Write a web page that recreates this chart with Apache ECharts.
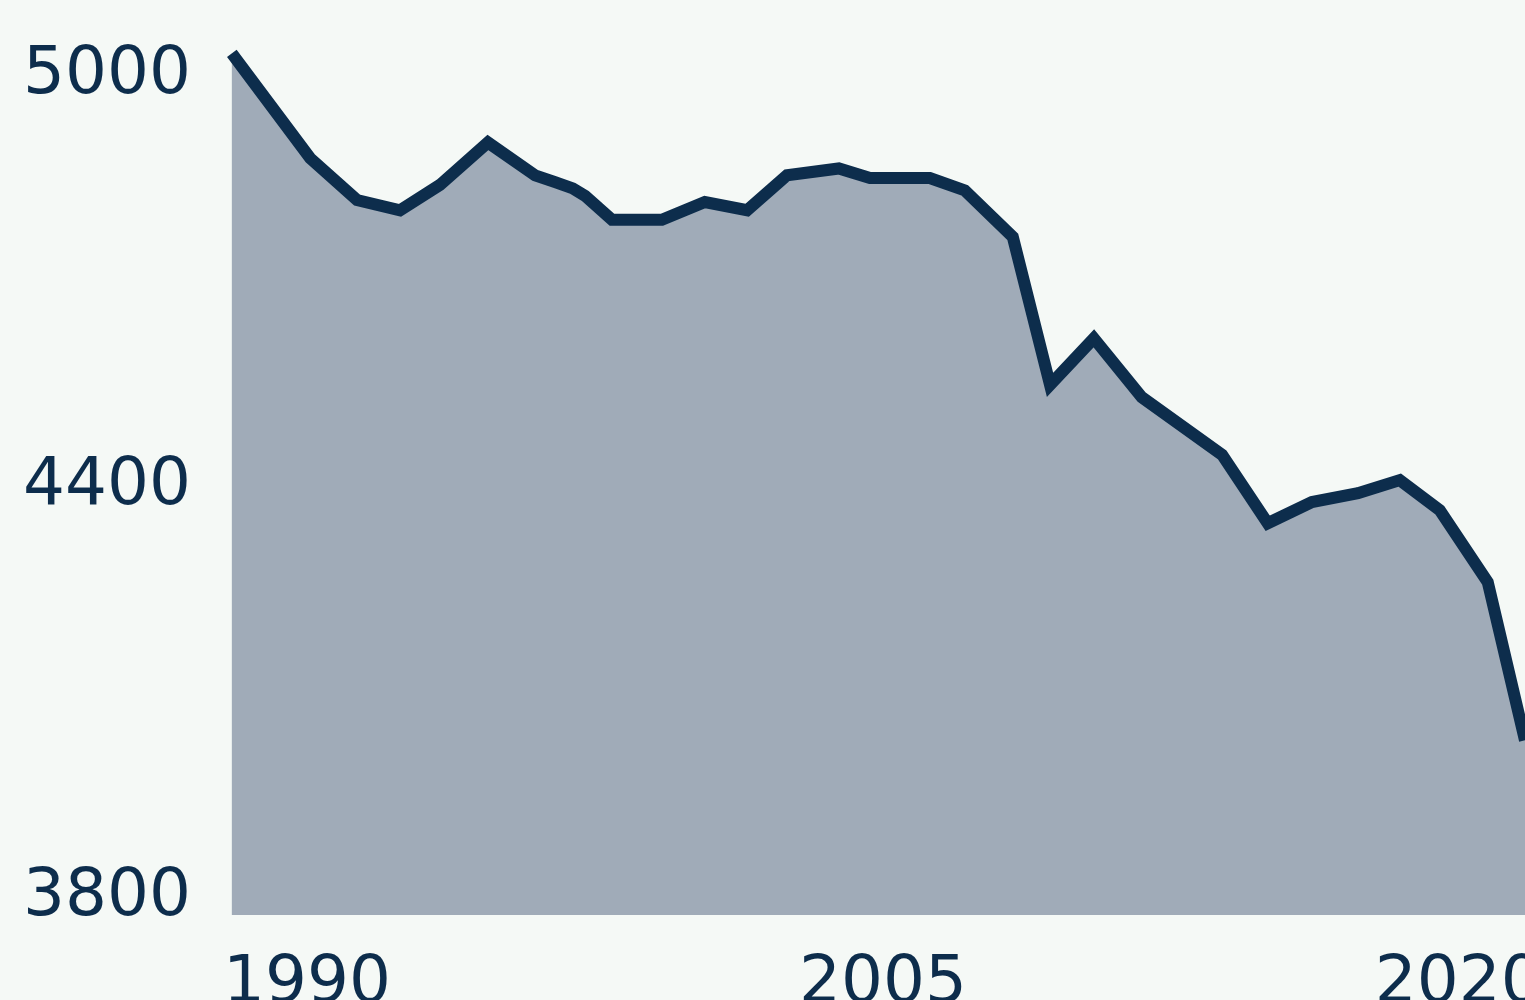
<!DOCTYPE html>
<html>
<head>
<meta charset="utf-8">
<title>Area chart</title>
<script src="https://cdn.jsdelivr.net/npm/echarts@6/dist/echarts.min.js"></script>
<style>
  html, body { margin: 0; padding: 0; background: #f5f9f6; }
  #main { width: 1525px; height: 1000px; }
</style>
</head>
<body>
<div id="main"></div>
<script>
// values (years are fractional)
const years = [
  1990.23, 1992.27, 1993.49, 1994.61, 1995.65, 1996.90, 1998.13, 1998.65,
  1999.11, 1999.43, 2000.13, 2001.43, 2002.55, 2003.65, 2004.69, 2006.04,
  2006.85, 2008.41, 2009.32, 2010.57, 2011.54, 2012.68, 2013.93, 2016.02,
  2017.21, 2018.36, 2019.56, 2020.65, 2021.69, 2022.94, 2023.91,
];
const values = [
  5058, 4905, 4844, 4829, 4866, 4928, 4880, 4870,
  4861, 4850, 4815, 4815, 4841, 4829, 4880, 4890,
  4876, 4876, 4858, 4790, 4574, 4642, 4556, 4472,
  4372, 4403, 4416, 4435, 4391, 4286, 4055,
];
const xTicks = [1990, 2005, 2020];
const yTicks = [3800, 4400, 5000];

const navy = '#0d2d4c';
const fontFamily = '"DejaVu Sans", sans-serif';

const dom = document.getElementById('main');
const myChart = echarts.init(dom);

function getChartOptions() {
  return {
    backgroundColor: '#f5f9f6',
    animation: false,
    grid: {
      left: 223,
      right: 0,
      top: 0,
      bottom: 85,
      outerBoundsMode: 'none',
    },
    xAxis: {
      type: 'value',
      min: 1990,
      max: 2023.91,
      axisLine: { show: false },
      axisTick: { show: false },
      splitLine: { show: false },
      axisLabel: {
        customValues: xTicks,
        formatter: (v) => String(v),
        align: 'left',
        verticalAlign: 'top',
        lineHeight: 46,
        margin: 47,
        color: navy,
        fontFamily: fontFamily,
        fontSize: 66,
      },
    },
    yAxis: {
      type: 'value',
      min: 3800,
      max: 5136,
      axisLine: { show: false },
      axisTick: { show: false },
      splitLine: { show: false },
      axisLabel: {
        customValues: yTicks,
        formatter: (v) => String(v),
        align: 'right',
        verticalAlign: 'bottom',
        lineHeight: 34,
        margin: 32,
        color: navy,
        fontFamily: fontFamily,
        fontSize: 66,
      },
    },
    series: [
      {
        type: 'line',
        data: years.map((y, i) => [y, values[i]]),
        symbol: 'none',
        lineStyle: { color: navy, width: 12, join: 'miter', cap: 'butt' },
        areaStyle: { color: '#a0abb8', opacity: 1 },
      },
    ],
  };
}

myChart.setOption(getChartOptions());
</script>
</body>
</html>
